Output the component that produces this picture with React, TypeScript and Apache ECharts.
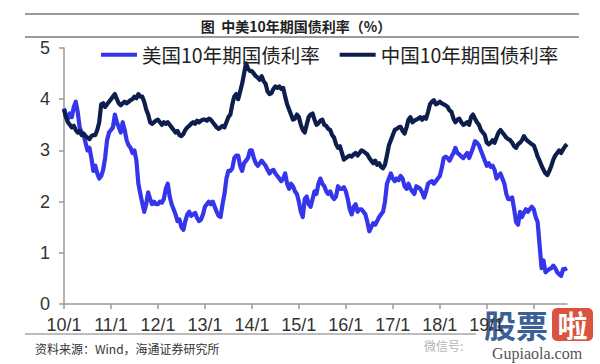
import React, { useEffect, useRef } from "react";
import * as echarts from "echarts";

// Semi-monthly observations, Jan 2010 – Sep 2020 (two points per month)
const START_YEAR = 2010;
const END_YEAR = 2020;
const END_MONTH = 9;

const usYield: number[] = [
  // 2010
  3.82, 3.68, 3.62, 3.72, 3.65, 3.85, 3.95, 3.75, 3.45, 3.35, 3.30, 3.15,
  3.00, 3.05, 2.85, 2.60, 2.70, 2.55, 2.45, 2.50, 2.62, 2.85, 3.20, 3.35,
  // 2011
  3.40, 3.45, 3.70, 3.55, 3.45, 3.35, 3.55, 3.40, 3.20, 3.10, 3.05, 2.95,
  3.00, 2.80, 2.35, 2.15, 1.97, 1.80, 1.95, 2.18, 2.05, 1.95, 2.00, 1.95,
  // 2012
  1.95, 2.00, 1.98, 2.05, 2.25, 2.35, 2.10, 1.95, 1.85, 1.75, 1.62, 1.65,
  1.50, 1.45, 1.62, 1.75, 1.80, 1.72, 1.75, 1.78, 1.68, 1.62, 1.65, 1.75,
  // 2013
  1.90, 1.95, 2.00, 1.95, 2.00, 1.90, 1.80, 1.72, 1.70, 1.95, 2.15, 2.45,
  2.60, 2.60, 2.65, 2.85, 2.90, 2.90, 2.70, 2.60, 2.75, 2.80, 2.85, 3.00,
  // 2014
  3.00, 2.85, 2.75, 2.70, 2.75, 2.80, 2.75, 2.70, 2.62, 2.55, 2.60, 2.62,
  2.55, 2.50, 2.45, 2.40, 2.45, 2.55, 2.35, 2.25, 2.35, 2.30, 2.20, 2.15,
  // 2015
  2.00, 1.80, 1.70, 2.05, 2.10, 1.95, 1.90, 2.05, 2.20, 2.15, 2.35, 2.45,
  2.35, 2.30, 2.20, 2.15, 2.20, 2.10, 2.05, 2.10, 2.30, 2.25, 2.25, 2.28,
  // 2016
  2.20, 2.05, 1.85, 1.75, 1.90, 1.95, 1.80, 1.85, 1.85, 1.80, 1.75, 1.60,
  1.42, 1.50, 1.58, 1.55, 1.62, 1.70, 1.75, 1.80, 2.00, 2.35, 2.45, 2.55,
  // 2017
  2.45, 2.40, 2.45, 2.42, 2.50, 2.45, 2.30, 2.25, 2.35, 2.25, 2.20, 2.15,
  2.30, 2.28, 2.25, 2.18, 2.08, 2.20, 2.35, 2.38, 2.40, 2.35, 2.40, 2.45,
  // 2018
  2.50, 2.65, 2.85, 2.88, 2.85, 2.80, 2.88, 2.95, 3.05, 2.95, 2.92, 2.88,
  2.85, 2.90, 2.95, 2.85, 2.95, 3.05, 3.18, 3.15, 3.10, 3.00, 2.90, 2.80,
  // 2019
  2.70, 2.75, 2.68, 2.70, 2.62, 2.45, 2.50, 2.55, 2.45, 2.35, 2.15, 2.05,
  2.05, 2.08, 1.85, 1.60, 1.55, 1.80, 1.70, 1.78, 1.85, 1.80, 1.85, 1.90,
  // 2020 (Jan–Sep)
  1.85, 1.70, 1.60, 1.15, 0.70, 0.85, 0.62, 0.65, 0.68, 0.70, 0.75, 0.70,
  0.62, 0.58, 0.55, 0.68, 0.68, 0.70,
];

const cnYield: number[] = [
  // 2010
  3.80, 3.65, 3.55, 3.50, 3.45, 3.48, 3.40, 3.35, 3.38, 3.30, 3.33, 3.28,
  3.25, 3.22, 3.28, 3.30, 3.30, 3.40, 3.55, 3.90, 3.92, 3.85, 3.90, 3.95,
  // 2011
  4.00, 4.05, 4.10, 4.00, 3.92, 3.88, 3.92, 3.95, 3.92, 3.95, 3.98, 4.00,
  4.05, 4.02, 4.10, 4.05, 4.05, 3.95, 3.80, 3.70, 3.55, 3.52, 3.55, 3.58,
  // 2012
  3.60, 3.55, 3.50, 3.55, 3.52, 3.55, 3.50, 3.45, 3.40, 3.35, 3.38, 3.30,
  3.28, 3.32, 3.40, 3.45, 3.48, 3.52, 3.55, 3.52, 3.58, 3.55, 3.58, 3.60,
  // 2013
  3.60, 3.58, 3.62, 3.60, 3.55, 3.50, 3.45, 3.42, 3.45, 3.48, 3.45, 3.55,
  3.65, 3.70, 3.90, 4.05, 4.10, 4.00, 4.15, 4.30, 4.50, 4.70, 4.60, 4.55,
  // 2014
  4.55, 4.50, 4.45, 4.42, 4.38, 4.45, 4.35, 4.30, 4.15, 4.10, 4.12, 4.20,
  4.25, 4.22, 4.25, 4.20, 4.22, 4.05, 3.90, 3.80, 3.70, 3.60, 3.62, 3.70,
  // 2015
  3.65, 3.50, 3.40, 3.35, 3.50, 3.65, 3.70, 3.72, 3.60, 3.50, 3.53, 3.58,
  3.60, 3.50, 3.48, 3.42, 3.40, 3.30, 3.25, 3.12, 3.05, 3.08, 2.95, 2.82,
  // 2016
  2.85, 2.88, 2.90, 2.88, 2.92, 2.95, 2.90, 2.95, 3.00, 2.98, 2.95, 2.92,
  2.85, 2.80, 2.75, 2.80, 2.72, 2.75, 2.68, 2.65, 2.72, 2.90, 3.10, 3.20,
  // 2017
  3.30, 3.40, 3.42, 3.45, 3.46, 3.38, 3.33, 3.45, 3.60, 3.65, 3.55, 3.58,
  3.60, 3.62, 3.65, 3.60, 3.65, 3.62, 3.75, 3.90, 3.95, 3.98, 3.90, 3.92,
  // 2018
  3.95, 3.92, 3.90, 3.88, 3.85, 3.78, 3.75, 3.62, 3.55, 3.60, 3.62, 3.55,
  3.50, 3.52, 3.55, 3.50, 3.65, 3.70, 3.62, 3.55, 3.50, 3.40, 3.35, 3.30,
  // 2019
  3.15, 3.12, 3.15, 3.20, 3.15, 3.25, 3.35, 3.40, 3.35, 3.30, 3.25, 3.22,
  3.20, 3.15, 3.08, 3.05, 3.12, 3.15, 3.20, 3.28, 3.22, 3.18, 3.15, 3.12,
  // 2020 (Jan–Sep)
  3.10, 3.00, 2.88, 2.80, 2.70, 2.62, 2.55, 2.52, 2.60, 2.70, 2.82, 2.90,
  2.95, 3.00, 2.95, 3.02, 3.08, 3.12,
];

// Category labels: "yy/m" for first half of month, "yy/m/16" for second half
const categories: string[] = [];
for (let y = START_YEAR; y <= END_YEAR; y++) {
  const lastMonth = y === END_YEAR ? END_MONTH : 12;
  for (let m = 1; m <= lastMonth; m++) {
    const yy = String(y % 100).padStart(2, "0");
    categories.push(`${yy}/${m}`);
    categories.push(`${yy}/${m}/16`);
  }
}

// label hidden under the watermark in the reference
const hiddenLabels = ["20/1"];

const seriesNames = ["美国10年期国债利率", "中国10年期国债利率"];
const seriesColors = ["#3535EC", "#0E1E4C"];
const titleText = "图  中美10年期国债利率（%）";
const sourceText = "资料来源：Wind，海通证券研究所";

const isYearStart = (value: string) => {
  const parts = String(value).split("/");
  return parts.length === 2 && parts[1] === "1";
};

export default function App() {
  const ref = useRef<HTMLDivElement>(null);

  useEffect(() => {
    if (!ref.current) return;
    const chart = echarts.init(ref.current, undefined, { renderer: "svg" });
    const numFont = "'Liberation Sans', Arial, sans-serif";
    const cjkFont = "'Noto Sans CJK SC', 'Noto Sans', sans-serif";
    chart.setOption({
      animation: false,
      backgroundColor: "#ffffff",
      grid: { left: 64, right: 33, top: 48, bottom: 60, containLabel: false },
      legend: {
        left: 96,
        top: 40,
        itemGap: 20,
        itemWidth: 36,
        itemHeight: 4,
        icon: "rect",
        data: seriesNames,
        textStyle: { fontSize: 19.5, color: "#222", fontFamily: cjkFont },
      },
      xAxis: {
        type: "category",
        data: categories,
        boundaryGap: false,
        axisLine: { lineStyle: { color: "#9a9a9a", width: 1.5 } },
        axisTick: {
          show: true,
          length: 5,
          interval: (_i: number, v: string) => isYearStart(v),
          lineStyle: { color: "#9a9a9a", width: 1.5 },
        },
        axisLabel: {
          interval: (_i: number, v: string) => isYearStart(v) && hiddenLabels.indexOf(v) < 0,
          fontSize: 18,
          color: "#333",
          fontFamily: numFont,
          margin: 12,
        },
        splitLine: { show: false },
      },
      yAxis: {
        type: "value",
        min: 0,
        max: 5,
        interval: 1,
        axisLine: { show: true, lineStyle: { color: "#9a9a9a", width: 1.5 } },
        axisTick: { show: true, length: 5, lineStyle: { color: "#9a9a9a", width: 1.5 } },
        axisLabel: { fontSize: 18, color: "#333", fontFamily: numFont, margin: 14 },
        splitLine: { show: false },
      },
      series: [
        {
          name: seriesNames[0],
          type: "line",
          data: usYield,
          showSymbol: false,
          color: seriesColors[0],
          lineStyle: { width: 4.2, color: seriesColors[0], join: "round" },
        },
        {
          name: seriesNames[1],
          type: "line",
          data: cnYield,
          showSymbol: false,
          color: seriesColors[1],
          lineStyle: { width: 4.2, color: seriesColors[1], join: "round" },
        },
      ],
      graphic: [
        { type: "line", shape: { x1: 25, y1: 14, x2: 579, y2: 14 }, style: { stroke: "#7a7a7a", lineWidth: 1.5 } },
        { type: "line", shape: { x1: 25, y1: 37, x2: 579, y2: 37 }, style: { stroke: "#7a7a7a", lineWidth: 1.5 } },
        {
          type: "text",
          x: 296,
          y: 26,
          style: {
            text: titleText,
            fontSize: 14,
            fontWeight: "bold",
            fontFamily: cjkFont,
            fill: "#222",
            align: "center",
            verticalAlign: "middle",
          },
        },
        { type: "line", shape: { x1: 25, y1: 334, x2: 579, y2: 334 }, style: { stroke: "#7a7a7a", lineWidth: 1.2 } },
        {
          type: "text",
          x: 35,
          y: 348,
          style: {
            text: sourceText,
            fontSize: 12,
            fontFamily: cjkFont,
            fill: "#333",
            verticalAlign: "middle",
          },
        },
        // watermark
        {
          type: "group",
          z: 100,
          children: [
            { type: "rect", shape: { x: 476, y: 306, width: 124, height: 58 }, style: { fill: "rgba(255,255,255,0.92)" } },
            { type: "rect", shape: { x: 418, y: 338, width: 55, height: 13 }, style: { fill: "rgba(255,255,255,0.85)" } },
            {
              type: "text",
              x: 424,
              y: 345,
              style: { text: "微信号:", fontSize: 12, fontFamily: cjkFont, fill: "#b5b5b5", verticalAlign: "middle" },
            },
            {
              type: "text",
              x: 484,
              y: 324,
              style: {
                text: "股票",
                fontSize: 32,
                fontWeight: "bold",
                fontFamily: cjkFont,
                fill: "#3c5f96",
                verticalAlign: "middle",
              },
            },
            { type: "rect", shape: { x: 552, y: 308, width: 41, height: 33, r: 5 }, style: { fill: "#d9533f" } },
            {
              type: "text",
              x: 572.5,
              y: 324,
              style: {
                text: "啦",
                fontSize: 30,
                fontWeight: "bold",
                fontFamily: cjkFont,
                fill: "#ffffff",
                align: "center",
                verticalAlign: "middle",
              },
            },
            {
              type: "text",
              x: 537,
              y: 353,
              style: {
                text: "Gupiaola.com",
                fontSize: 16,
                fontFamily: "'Liberation Serif', 'DejaVu Serif', serif",
                fill: "#555",
                align: "center",
                verticalAlign: "middle",
              },
            },
          ],
        },
      ],
    });
    return () => chart.dispose();
  }, []);

  return <div ref={ref} style={{ width: 600, height: 364, position: "absolute", left: 0, top: 0 }} />;
}
